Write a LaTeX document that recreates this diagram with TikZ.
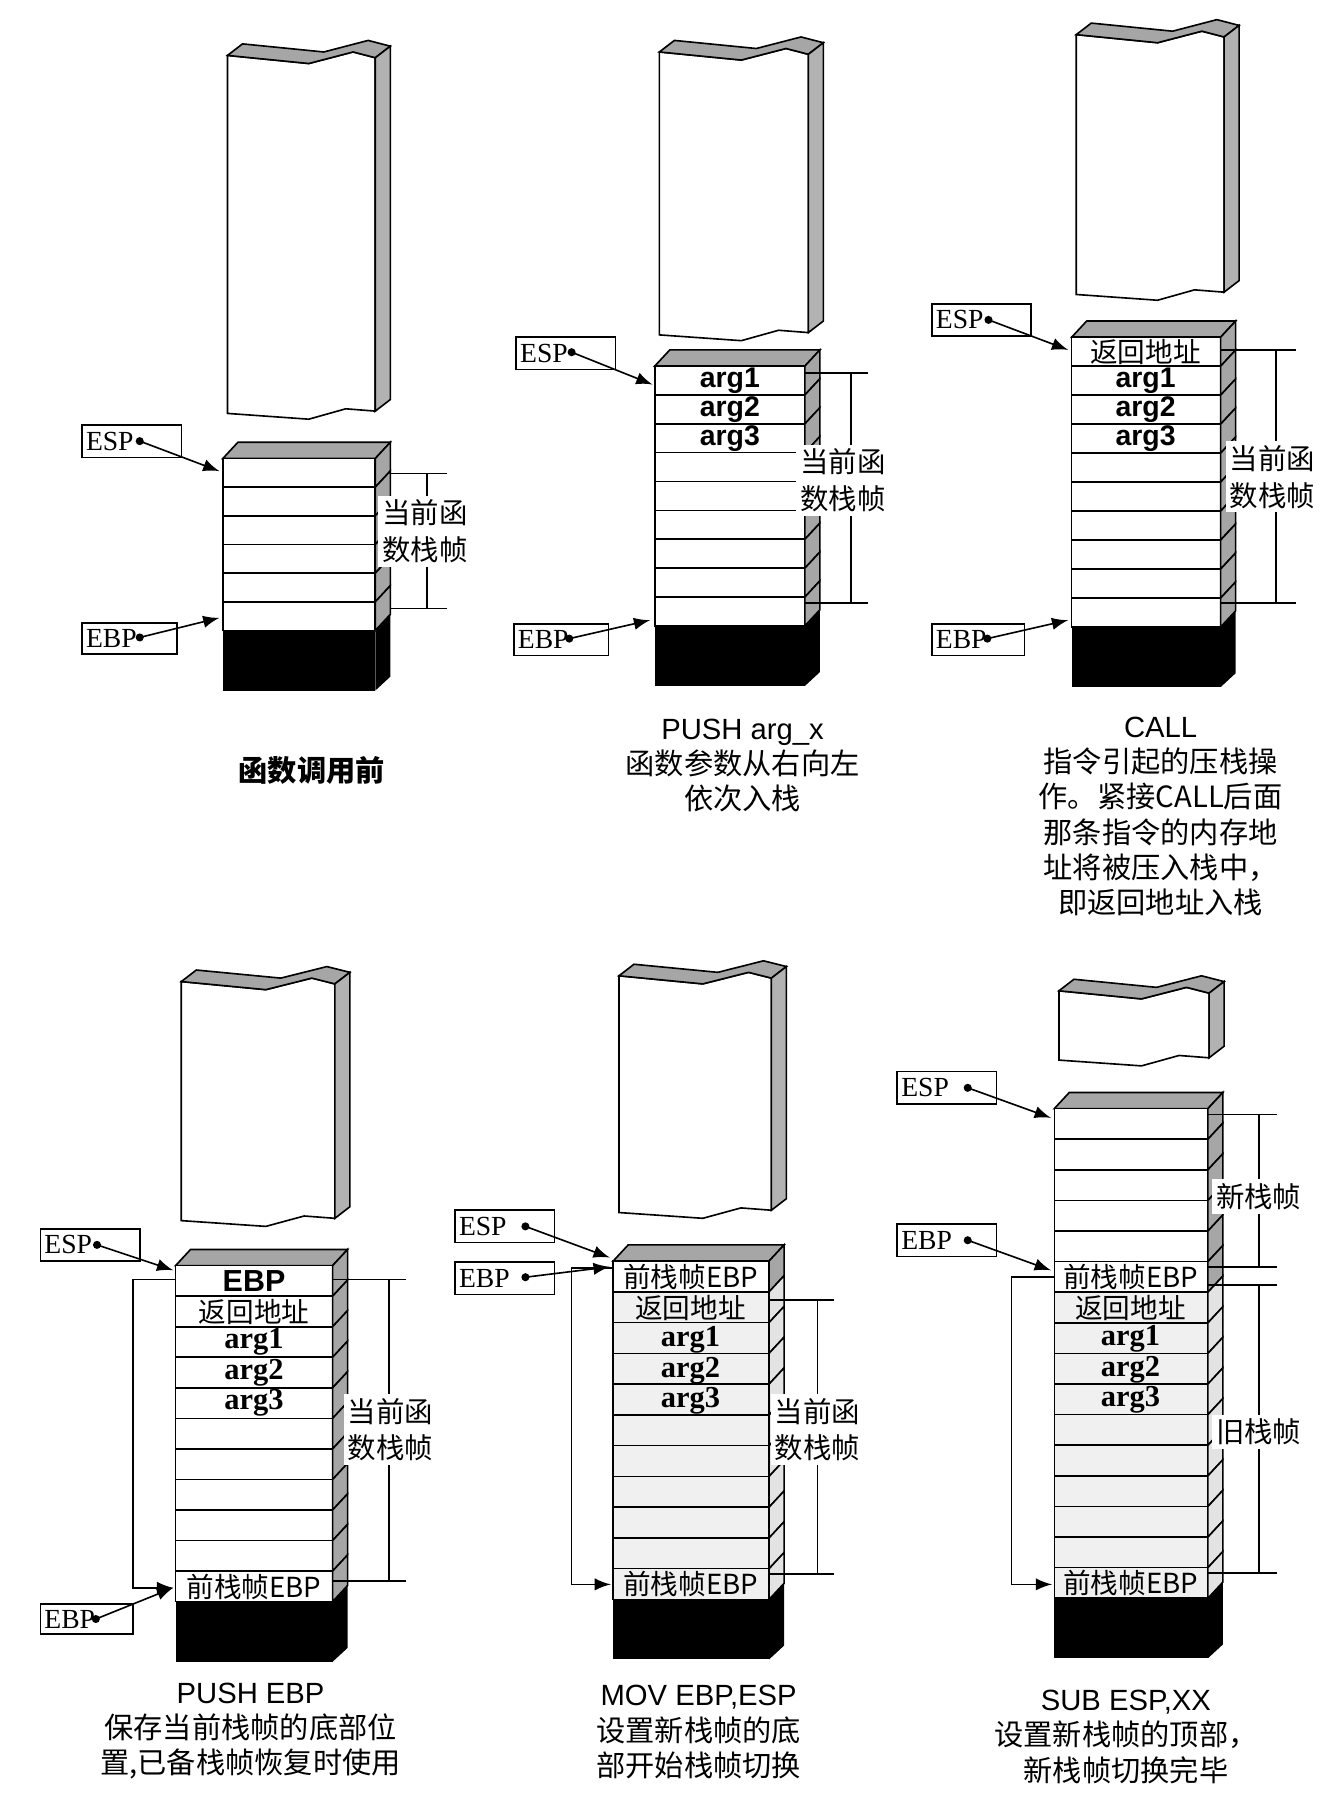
\documentclass[tikz,border=0pt]{standalone}
\usepackage{fontspec}
\setmainfont{Liberation Serif}
\newfontfamily\cjk{Noto Sans CJK SC}
\newfontfamily\hei{Liberation Sans}
\usetikzlibrary{arrows}

% one stack cell: L R y1 y2 front side
\newcommand{\cell}[6]{%
  \filldraw[fill=#5] (#1,#3) rectangle (#2,#4);
  \filldraw[fill=#6] (#2,#3) -- ({#2+13},{#3-14}) -- ({#2+13},{#4-14}) -- (#2,#4) -- cycle;}
% n cells from row k: L R top h k n front side
\newcommand{\rows}[8]{%
  \foreach \i in {#5,...,#6} {%
    \pgfmathsetmacro\ya{#3+#4*\i}\pgfmathsetmacro\yb{#3+#4*(\i+1)}%
    \cell{#1}{#2}{\ya}{\yb}{#7}{#8}}}
% top face and black base
\newcommand{\stacktop}[3]{%
  \filldraw[fill=gray!70] (#1,#3) -- ({#1+13},{#3-14}) -- ({#2+13},{#3-14}) -- (#2,#3) -- cycle;}
\newcommand{\stackbase}[3]{%
  \fill (#1,#3) rectangle (#2,{#3+52});
  \fill (#2,#3) -- ({#2+13},{#3-14}) -- ({#2+13},{#3+40}) -- (#2,{#3+52}) -- cycle;}
% torn piece above: L R top bottom
\newcommand{\torn}[4]{%
  \pgfmathsetmacro\xa{#1+0.55*(#2-#1)}\pgfmathsetmacro\xb{#1+0.85*(#2-#1)}\pgfmathsetmacro\xc{#1+0.8*(#2-#1)}%
  \filldraw[fill=white] (#1,#3) -- (\xa,{#3+7}) -- (\xb,{#3-3}) -- (#2,{#3+2}) -- (#2,{#4-2}) -- (\xc,{#4-4}) -- (\xa,{#4+5}) -- (#1,#4) -- cycle;
  \filldraw[fill=gray!70] (#1,#3) -- (\xa,{#3+7}) -- (\xb,{#3-3}) -- (#2,{#3+2}) -- ({#2+13},{#3-8}) -- ({\xb+13},{#3-13}) -- ({\xa+13},{#3-3}) -- ({#1+13},{#3-10}) -- cycle;
  \filldraw[fill=gray!60] (#2,{#3+2}) -- ({#2+13},{#3-8}) -- ({#2+13},{#4-12}) -- (#2,{#4-2}) -- cycle;}

\begin{document}
\begin{tikzpicture}[x=0.01cm,y=-0.01cm,line width=0.4pt]
    % Define styles
    \tikzstyle{ptrbox} = [draw, minimum width=0.86cm, minimum height=0.28cm, inner sep=0]
    \tikzstyle{ptrtext} = [anchor=west, inner sep=1, font=\fontsize{6.8}{8}\selectfont]
    \tikzstyle{ptr} = [->, >=latex]
    \tikzstyle{cell} = [inner sep=0, font=\cjk\fontsize{6.8}{7}\selectfont]
    \tikzstyle{argt} = [inner sep=0, font=\hei\bfseries\fontsize{7}{8}\selectfont]
    \tikzstyle{argb} = [inner sep=0, font=\bfseries\fontsize{7.5}{8}\selectfont]
    \tikzstyle{side} = [fill=white, inner sep=1, align=left, font=\cjk\fontsize{7}{9}\selectfont]
    \tikzstyle{captext} = [align=center, inner sep=0, font=\cjk\fontsize{7.2}{8.7}\selectfont]
    \useasboundingbox (0,0) rectangle (1160,1557);

    % ---------- panel 1: before call ----------
    \torn{197}{325}{48}{358}
    \stacktop{193}{325}{397}
    \rows{193}{325}{397}{24.83}{0}{5}{white}{gray!70}
    \stackbase{193}{325}{546}
    \draw (338,410) -- (387,410) (338,527) -- (387,527) (370,410) -- (370,527);
    \node (fr1) [side] at (368,460) {当前函\\数栈帧};
    \node (esp1) [ptrbox] at (114,382) {};
    \node (esp1l) [ptrtext] at (esp1.west) {ESP};
    \coordinate (esp1d) at (121,382); \coordinate (esp1e) at (190,408);
    \node (ebp1) [ptrbox, minimum width=0.82cm, minimum height=0.27cm] at (112,553) {};
    \node (ebp1l) [ptrtext] at (ebp1.west) {EBP};
    \coordinate (ebp1d) at (121,552); \coordinate (ebp1e) at (190,535);
    \node (cap1) [captext, font=\cjk\bfseries\fontsize{7.2}{10}\selectfont] at (270,667) {函数调用前};

    % ---------- panel 2: push args ----------
    \torn{571}{700}{45}{290}
    \stacktop{567}{697}{317}
    \rows{567}{697}{317}{25}{0}{8}{white}{gray!70}
    \stackbase{567}{697}{542}
    \node (a21) [argt] at (632,330) {arg1};
    \node (a22) [argt] at (632,355) {arg2};
    \node (a23) [argt] at (632,380) {arg3};
    \draw (697,323) -- (752,323) (697,522) -- (752,522) (737,323) -- (737,522);
    \node (fr2) [side] at (730,416) {当前函\\数栈帧};
    \node (esp2) [ptrbox] at (490,306) {};
    \node (esp2l) [ptrtext] at (esp2.west) {ESP};
    \coordinate (esp2d) at (495,305); \coordinate (esp2e) at (565,333);
    \node (ebp2) [ptrbox, minimum width=0.82cm, minimum height=0.27cm] at (486,554) {};
    \node (ebp2l) [ptrtext] at (ebp2.west) {EBP};
    \coordinate (ebp2d) at (493,553); \coordinate (ebp2e) at (563,537);
    \node (cap2) [captext] at (643,663) {{\hei PUSH arg\_x}\\函数参数从右向左\\依次入栈};

    % ---------- panel 3: call ----------
    \torn{932}{1060}{30}{255}
    \stacktop{928}{1057}{292}
    \rows{928}{1057}{292}{25.1}{0}{9}{white}{gray!70}
    \stackbase{928}{1057}{543}
    \node (a30) [cell] at (992,305) {返回地址};
    \node (a31) [argt] at (992,330) {arg1};
    \node (a32) [argt] at (992,355) {arg2};
    \node (a33) [argt] at (992,380) {arg3};
    \draw (1057,303) -- (1122,303) (1057,522) -- (1122,522) (1105,303) -- (1105,522);
    \node (fr3) [side] at (1102,413) {当前函\\数栈帧};
    \node (esp3) [ptrbox] at (850,277) {};
    \node (esp3l) [ptrtext] at (esp3.west) {ESP};
    \coordinate (esp3d) at (856,277); \coordinate (esp3e) at (925,303);
    \node (ebp3) [ptrbox, minimum width=0.8cm, minimum height=0.27cm] at (847,554) {};
    \node (ebp3l) [ptrtext] at (ebp3.west) {EBP};
    \coordinate (ebp3d) at (855,553); \coordinate (ebp3e) at (925,537);
    \node (cap3) [captext] at (1005,707) {{\hei CALL}\\指令引起的压栈操\\作。紧接CALL后面\\那条指令的内存地\\址将被压入栈中，\\即返回地址入栈};

    % ---------- panel 4: push ebp ----------
    \torn{157}{290}{850}{1057}
    \stacktop{152}{288}{1096}
    \rows{152}{288}{1096}{26.45}{0}{10}{white}{gray!70}
    \stackbase{152}{288}{1387}
    \node (a40) [argt, font=\hei\bfseries\fontsize{7.5}{8}\selectfont] at (220,1109) {EBP};
    \node (a41) [cell] at (220,1136) {返回地址};
    \node (a42) [argb] at (220,1162) {arg1};
    \node (a43) [argb] at (220,1189) {arg2};
    \node (a44) [argb] at (220,1215) {arg3};
    \node (a45) [cell] at (220,1374) {前栈帧EBP};
    \draw (288,1108) -- (352,1108) (288,1369) -- (352,1369) (337,1108) -- (337,1369);
    \node (fr4) [side] at (338,1238) {当前函\\数栈帧};
    \coordinate (old4) at (152,1108); \coordinate (bot4) at (150,1375);
    \draw[ptr] (old4) -- (115,1108) |- (bot4);
    \node (esp4) [ptrbox] at (78,1078) {};
    \node (esp4l) [ptrtext] at (esp4.west) {ESP};
    \coordinate (esp4d) at (84,1078); \coordinate (esp4e) at (150,1100);
    \node (ebp4) [ptrbox, minimum width=0.8cm, minimum height=0.26cm] at (75,1402) {};
    \node (ebp4l) [ptrtext] at (ebp4.west) {EBP};
    \coordinate (ebp4d) at (83,1402);
    \node (cap4) [captext] at (217,1499) {{\hei PUSH EBP}\\保存当前栈帧的底部位\\置,已备栈帧恢复时使用};

    % ---------- panel 5: mov ebp,esp ----------
    \torn{536}{668}{845}{1050}
    \stacktop{531}{666}{1092}
    \rows{531}{666}{1092}{26.64}{0}{0}{white}{gray!70}
    \rows{531}{666}{1092}{26.64}{1}{10}{gray!12}{gray!22}
    \stackbase{531}{666}{1385}
    \node (a50) [cell] at (598,1106) {前栈帧EBP};
    \node (a51) [cell] at (598,1133) {返回地址};
    \node (a52) [argb] at (598,1160) {arg1};
    \node (a53) [argb] at (598,1187) {arg2};
    \node (a54) [argb] at (598,1213) {arg3};
    \node (a55) [cell] at (598,1372) {前栈帧EBP};
    \draw (666,1126) -- (722,1126) (666,1363) -- (722,1363) (708,1126) -- (708,1363);
    \node (fr5) [side] at (708,1238) {当前函\\数栈帧};
    \coordinate (old5) at (531,1098); \coordinate (bot5) at (529,1372);
    \draw[ptr] (old5) -- (495,1098) |- (bot5);
    \node (esp5) [ptrbox] at (437,1062) {};
    \node (esp5l) [ptrtext] at (esp5.west) {ESP};
    \coordinate (esp5d) at (455,1062); \coordinate (esp5e) at (528,1089);
    \node (ebp5) [ptrbox] at (437,1107) {};
    \node (ebp5l) [ptrtext] at (ebp5.west) {EBP};
    \coordinate (ebp5d) at (455,1106); \coordinate (ebp5e) at (528,1097);
    \node (cap5) [captext] at (605,1500) {{\hei MOV EBP,ESP}\\设置新栈帧的底\\部开始栈帧切换};

    % ---------- panel 6: sub esp ----------
    \torn{917}{1047}{858}{918}
    \stacktop{913}{1046}{960}
    \rows{913}{1046}{960}{26.5}{0}{5}{white}{gray!70}
    \rows{913}{1046}{960}{26.5}{6}{15}{gray!12}{gray!22}
    \stackbase{913}{1046}{1384}
    \node (a60) [cell] at (979,1106) {前栈帧EBP};
    \node (a61) [cell] at (979,1133) {返回地址};
    \node (a62) [argb] at (979,1159) {arg1};
    \node (a63) [argb] at (979,1186) {arg2};
    \node (a64) [argb] at (979,1212) {arg3};
    \node (a65) [cell] at (979,1371) {前栈帧EBP};
    \draw (1046,965) -- (1106,965) (1046,1097) -- (1106,1097) (1090,965) -- (1090,1097);
    \draw (1046,1113) -- (1106,1113) (1046,1362) -- (1106,1362) (1090,1113) -- (1090,1362);
    \node (fr6a) [side] at (1090,1036) {新栈帧};
    \node (fr6b) [side] at (1090,1240) {旧栈帧};
    \coordinate (old6) at (913,1106); \coordinate (bot6) at (911,1372);
    \draw[ptr] (old6) -- (876,1106) |- (bot6);
    \node (esp6) [ptrbox] at (820,942) {};
    \node (esp6l) [ptrtext] at (esp6.west) {ESP};
    \coordinate (esp6d) at (838,942); \coordinate (esp6e) at (910,968);
    \node (ebp6) [ptrbox] at (820,1074) {};
    \node (ebp6l) [ptrtext] at (ebp6.west) {EBP};
    \coordinate (ebp6d) at (838,1074); \coordinate (ebp6e) at (910,1100);
    \node (cap6) [captext] at (975,1504) {{\hei SUB ESP,XX}\\设置新栈帧的顶部，\\新栈帧切换完毕};

    % pointer arrows
    \foreach \p in {esp1,ebp1,esp2,ebp2,esp3,ebp3,esp4,esp5,ebp5,esp6,ebp6} {
        \fill (\p d) circle (3.5);
        \draw [ptr] (\p d) -- (\p e);
    }
    \fill (ebp4d) circle (3.5);
    \draw [ptr] (ebp4d) -- (bot4);

\end{tikzpicture}
\end{document}
